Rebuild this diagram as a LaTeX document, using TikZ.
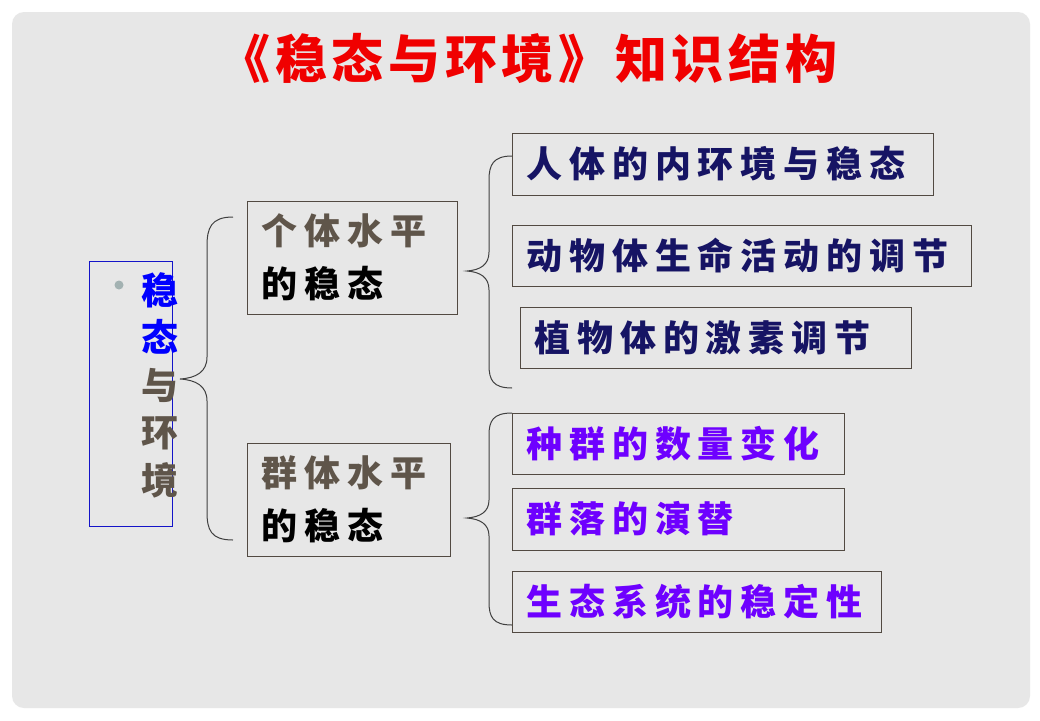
\documentclass[tikz,border=0pt]{standalone}
\usepackage{fontspec}
\newfontfamily\cjk{Noto Sans CJK SC}[LetterSpace=19]
\newfontfamily\cjktitle{Noto Sans CJK SC}[LetterSpace=9]

\definecolor{slidegray}{RGB}{231,231,231}
\definecolor{titlered}{RGB}{240,0,0}
\definecolor{darknavy}{RGB}{22,20,100}
\definecolor{violet}{RGB}{110,0,255}
\definecolor{stonegray}{RGB}{95,85,74}
\definecolor{boxline}{RGB}{82,74,66}
\definecolor{topicblue}{RGB}{0,0,255}
\definecolor{frameblue}{RGB}{20,20,200}

\begin{document}
\begin{tikzpicture}[x=1pt, y=-1pt,
    tbox/.style={draw=boxline, line width=1pt, anchor=west, inner xsep=14pt, inner ysep=0pt, align=left,
        font=\cjk\bfseries\fontsize{36}{53}\selectfont},
    brace/.style={draw=black!75, line width=1pt}]
    % slide
    \fill[white] (0,0) rectangle (1040,720);
    \fill[slidegray, rounded corners=12pt] (12,12) rectangle (1030,708);
    \node[text=titlered, font=\cjktitle\bfseries\fontsize{52}{52}\selectfont] (title) at (528,58) {《稳态与环境》知识结构};

    % left topic
    \node[draw=frameblue, line width=0.8pt, minimum width=83pt, minimum height=265pt, inner sep=0pt] (topicbox) at (130.5,393.5) {};
    \node[circle, fill=gray!80!teal!60, minimum size=9pt, inner sep=0pt] (dot) at (119,285) {};
    \node[text=stonegray, align=center, font=\cjk\bfseries\fontsize{37}{47.5}\selectfont] (topic) at (160,385)
        {{\color{topicblue}稳}\\{\color{topicblue}态}\\与\\环\\境};

    % middle level
    \node[tbox, text width=182pt, minimum height=113pt] (indiv) at (247,257.5) {{\color{stonegray}个体水平}\\的稳态};
    \node[tbox, text width=175pt, minimum height=113pt] (popul) at (247,499.5) {{\color{stonegray}群体水平}\\的稳态};

    % right level
    \node[tbox, text=darknavy, text width=393pt, minimum height=62pt] (inner) at (512,164) {人体的内环境与稳态};
    \node[tbox, text=darknavy, text width=431pt, minimum height=61pt] (animal) at (512,255.5) {动物体生命活动的调节};
    \node[tbox, text=darknavy, text width=363pt, minimum height=61pt] (plant) at (520,337.5) {植物体的激素调节};
    \node[tbox, text=violet, text width=304pt, minimum height=61pt] (number) at (512,443.5) {种群的数量变化};
    \node[tbox, text=violet, text width=304pt, minimum height=62pt] (succ) at (512,519) {群落的演替};
    \node[tbox, text=violet, text width=341pt, minimum height=61pt] (eco) at (512,601.5) {生态系统的稳定性};

    % braces
    \coordinate (a0) at (180,379);
    \coordinate (a1) at (233,217);
    \coordinate (a2) at (233,540);
    \coordinate (b0) at (467,271);
    \coordinate (b1) at (512,156);
    \coordinate (b2) at (512,388);
    \coordinate (c0) at (467,518);
    \coordinate (c1) at (512,413);
    \coordinate (c2) at (512,625);
    \draw[brace] (a1) .. controls (211,217) and (207,228) .. (207,246) -- (207,357)
        .. controls (207,372) and (196,378) .. (a0) .. controls (196,380) and (207,386) .. (207,401)
        -- (207,512) .. controls (207,530) and (211,540) .. (a2);
    \draw[brace] (b1) .. controls (493,156) and (489,165) .. (489,180) -- (489,252)
        .. controls (489,265) and (480,270) .. (b0) .. controls (480,272) and (489,277) .. (489,290)
        -- (489,365) .. controls (489,380) and (493,388) .. (b2);
    \draw[brace] (c1) .. controls (493,413) and (489,421) .. (489,435) -- (489,500)
        .. controls (489,512) and (480,517) .. (c0) .. controls (480,519) and (489,524) .. (489,536)
        -- (489,602) .. controls (489,617) and (493,625) .. (c2);
\end{tikzpicture}
\end{document}
